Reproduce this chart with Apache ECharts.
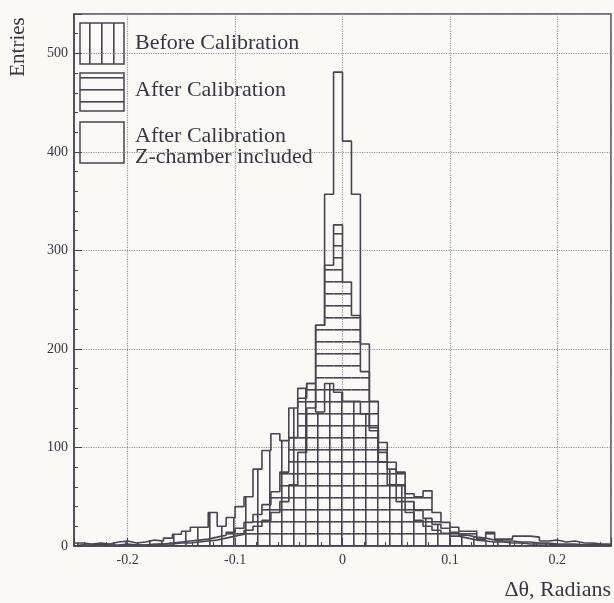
<!DOCTYPE html>
<html><head><meta charset="utf-8">
<script src="https://cdn.jsdelivr.net/npm/echarts@6/dist/echarts.min.js"></script>
<style>html,body{margin:0;padding:0;background:#fbf9f6}#c{width:614px;height:603px}</style>
</head><body><div id="c"></div>
<script>
// Histogram range and binning
const xMin = -0.25, xMax = 0.25, nBins = 60;
// Before Calibration (vertical hatch)
const beforeCal = [
  3,2,3,2,4,5,3,4,6,5,
  8,12,15,19,19,34,20,29,40,50,
  78,97,114,107,140,160,165,136,165,156,
  147,147,134,117,95,78,62,45,36,28,
  22,18,14,11,9,8,6,5,5,4,
  4,3,3,2,2,2,1,2,1,1];
// After Calibration (horizontal hatch)
const afterCal = [
  1,1,2,1,1,2,1,1,2,2,
  3,4,5,6,7,9,11,14,18,24,
  32,42,55,75,110,150,165,224,285,326,
  268,234,177,147,105,85,75,53,50,56,
  34,24,19,15,15,7,14,7,7,10,
  10,9,5,6,4,5,3,3,2,2];
// After Calibration, Z-chamber included (no hatch)
const afterCalZ = [
  1,0,1,1,0,1,1,1,1,2,
  2,3,3,4,5,6,8,10,12,16,
  20,26,34,45,62,95,140,224,357,481,
  411,357,205,120,85,62,45,34,26,20,
  16,13,10,8,6,5,4,4,3,3,
  2,2,2,1,1,1,1,0,1,0];
const legendLabels = ['Before Calibration', 'After Calibration', 'After Calibration', 'Z-chamber included'];
const yMax = 540;

const binW = (xMax - xMin) / nBins;
const ink = '#4a4352';
const gridC = '#9a90a0';
const txt = '#3a3542';
const serif = '"Liberation Serif","Times New Roman",serif';

function hatch(dir){
  const c = document.createElement('canvas'); c.width = 12; c.height = 12;
  const g = c.getContext('2d'); g.fillStyle = ink;
  if (dir === 'v') g.fillRect(5, 0, 1.6, 12); else g.fillRect(0, 5, 12, 1.6);
  return c;
}
const vPat = hatch('v'), hPat = hatch('h');

function fillSeries(name, vals, pat){
  return {type:'custom', name, silent:true, z:1,
    data: vals.map((v,i)=>[xMin+i*binW, xMin+(i+1)*binW, v]),
    encode:{x:[0,1], y:2},
    renderItem:(params, api)=>{
      const p0 = api.coord([api.value(0), api.value(2)]);
      const p1 = api.coord([api.value(1), 0]);
      return {type:'rect', shape:{x:p0[0], y:p0[1], width:p1[0]-p0[0], height:p1[1]-p0[1]},
        style:{fill:{image:pat, repeat:'repeat'}, stroke:null}};
    }};
}
function outline(name, vals){
  const pts = [[xMin, 0]];
  vals.forEach((v,i)=>pts.push([xMin+i*binW, v]));
  pts.push([xMax, vals[vals.length-1]]);
  pts.push([xMax, 0]);
  return {type:'line', name, step:'end', data:pts, symbol:'none', z:3, silent:true,
    lineStyle:{color:ink, width:1.6}};
}

const chart = echarts.init(document.getElementById('c'));
chart.setOption({
  backgroundColor:'#fbf9f6',
  animation:false,
  grid:{left:74, right:2, top:14, bottom:57, show:true, borderColor:ink, borderWidth:1.5},
  xAxis:{type:'value', min:xMin, max:xMax, splitNumber:5,
    axisLine:{show:true, onZero:false, lineStyle:{color:ink, width:1.5}},
    axisTick:{show:true, inside:true, length:8, lineStyle:{color:ink}},
    minorTick:{show:true, splitNumber:5, length:4, lineStyle:{color:ink}},
    splitLine:{show:true, lineStyle:{type:'dotted', color:gridC, width:1.2}},
    axisLabel:{fontFamily:serif, fontSize:14, color:txt, margin:7,
      formatter:v=>{const t=v*10; return Math.abs(t-Math.round(t))<1e-6 ? (Math.round(t)===0?'0':(Math.round(t)/10).toFixed(1)) : '';}}},
  yAxis:{type:'value', min:0, max:yMax, interval:100,
    axisLine:{show:true, onZero:false, lineStyle:{color:ink, width:1.5}},
    axisTick:{show:true, inside:true, length:8, lineStyle:{color:ink}},
    minorTick:{show:true, splitNumber:5, length:4, lineStyle:{color:ink}},
    splitLine:{show:true, lineStyle:{type:'dotted', color:gridC, width:1.2}},
    axisLabel:{fontFamily:serif, fontSize:14, color:txt, margin:6,
      formatter:v=>(v%100===0?String(v):'')}},
  series:[
    fillSeries('Before Calibration', beforeCal, vPat),
    fillSeries('After Calibration', afterCal, hPat),
    outline('Before Calibration', beforeCal),
    outline('After Calibration', afterCal),
    outline('After Calibration Z-chamber included', afterCalZ)
  ],
  graphic:[
    {type:'rect', shape:{x:80, y:23, width:44, height:41}, style:{fill:{image:vPat, repeat:'repeat'}, stroke:ink, lineWidth:1.5}},
    {type:'rect', shape:{x:80, y:73, width:44, height:38}, style:{fill:{image:hPat, repeat:'repeat'}, stroke:ink, lineWidth:1.5}},
    {type:'rect', shape:{x:80, y:122, width:44, height:41}, style:{fill:null, stroke:ink, lineWidth:1.5}},
    {type:'text', x:135, y:43, style:{text:legendLabels[0], font:'22px '+serif, fill:txt, verticalAlign:'middle'}},
    {type:'text', x:135, y:90, style:{text:legendLabels[1], font:'22px '+serif, fill:txt, verticalAlign:'middle'}},
    {type:'text', x:135, y:136, style:{text:legendLabels[2], font:'22px '+serif, fill:txt, verticalAlign:'middle'}},
    {type:'text', x:135, y:157, style:{text:legendLabels[3], font:'22px '+serif, fill:txt, verticalAlign:'middle'}},
    {type:'text', x:18, y:47, rotation:Math.PI/2, style:{text:'Entries', font:'21px '+serif, fill:txt, align:'center', verticalAlign:'middle'}},
    {type:'text', x:611, y:590, style:{text:'Δθ, Radians', font:'22px '+serif, fill:txt, align:'right', verticalAlign:'middle'}}
  ]
});
</script></body></html>
